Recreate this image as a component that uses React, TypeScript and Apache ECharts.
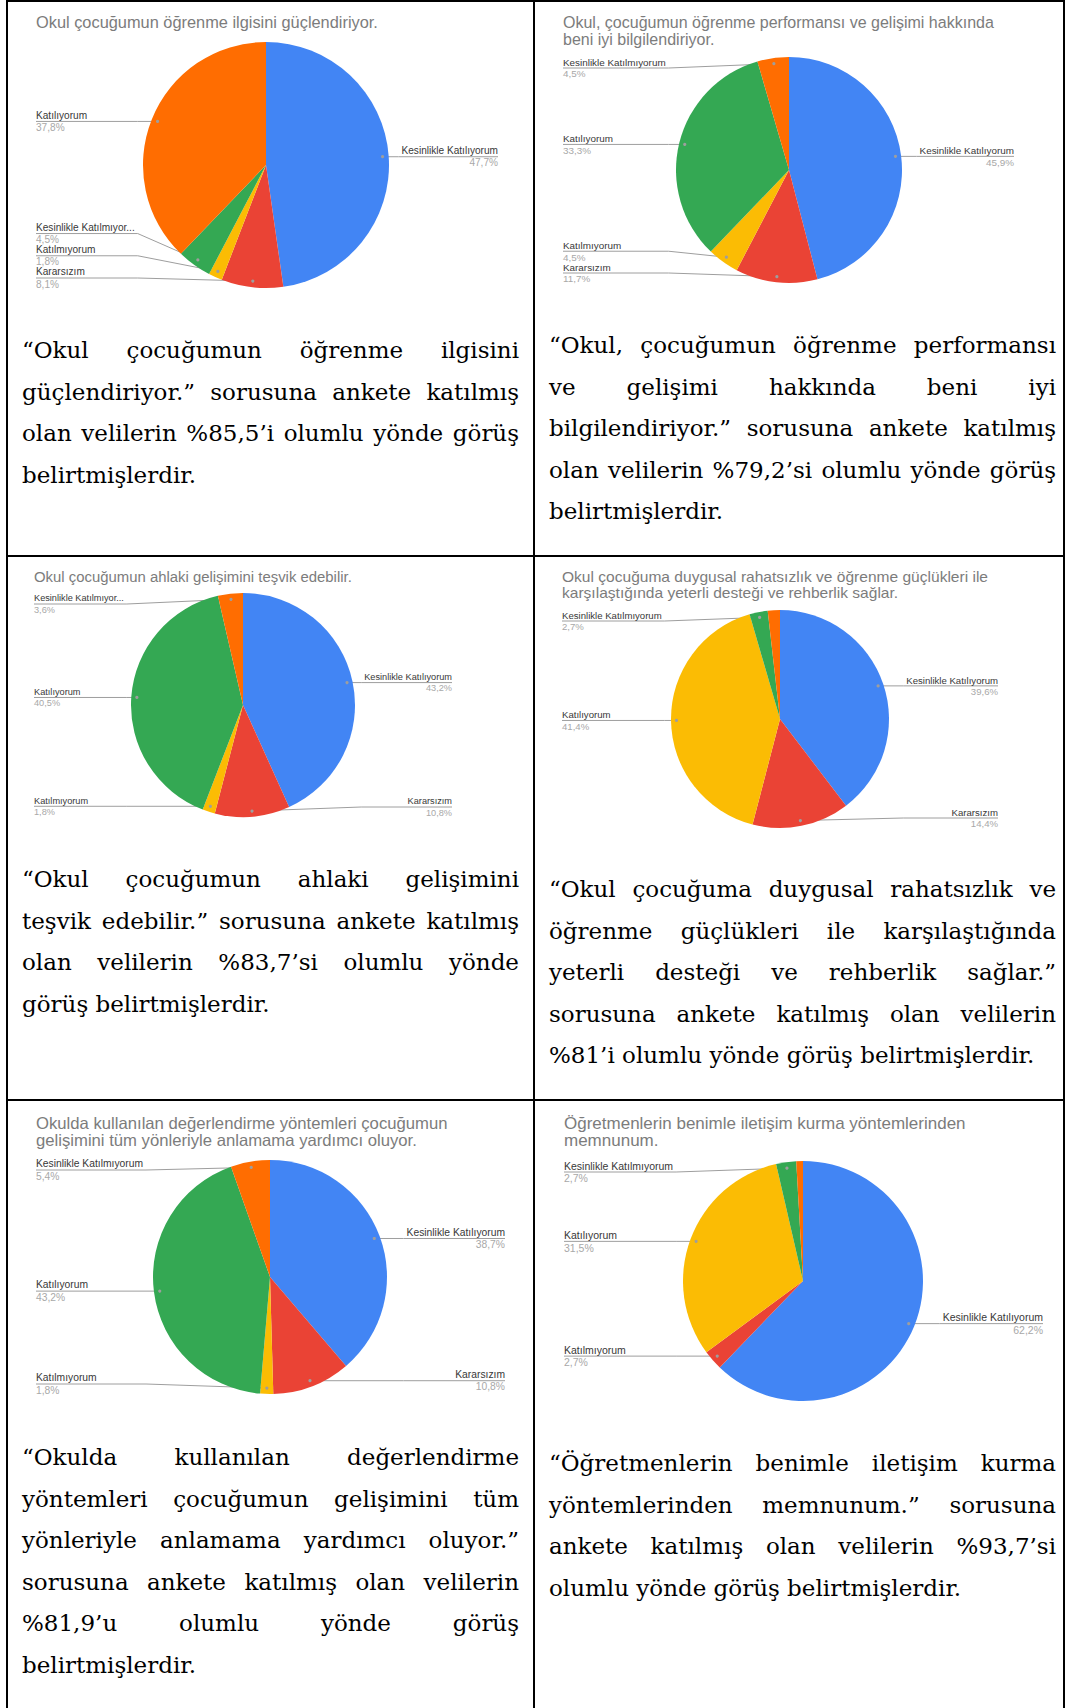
import React, { useEffect, useRef } from "react";
import * as echarts from "echarts";

// ---------- DATA ----------
const COLORS = ["#4285F4", "#EA4335", "#FBBC04", "#34A853", "#FF6D01"];

const KK = "Kesinlikle Katılıyorum";
const K = "Katılıyorum";
const KR = "Kararsızım";
const KM = "Katılmıyorum";
const KKM = "Kesinlikle Katılmıyorum";

const title1 = "Okul çocuğumun öğrenme ilgisini güçlendiriyor.";
const names1 = [KK, KR, KM, KKM, K];
const values1 = [47.7, 8.1, 1.8, 4.5, 37.8];

const title2 = "Okul, çocuğumun öğrenme performansı ve gelişimi hakkında\nbeni iyi bilgilendiriyor.";
const names2 = [KK, KR, KM, K, KKM];
const values2 = [45.9, 11.7, 4.5, 33.3, 4.5];

const title3 = "Okul çocuğumun ahlaki gelişimini teşvik edebilir.";
const names3 = [KK, KR, KM, K, KKM];
const values3 = [43.2, 10.8, 1.8, 40.5, 3.6];

const title4 = "Okul çocuğuma duygusal rahatsızlık ve öğrenme güçlükleri ile\nkarşılaştığında yeterli desteği ve rehberlik sağlar.";
const names4 = [KK, KR, K, KKM, KM];
const values4 = [39.6, 14.4, 41.4, 2.7, 1.8];

const title5 = "Okulda kullanılan değerlendirme yöntemleri çocuğumun\ngelişimini tüm yönleriyle anlamama yardımcı oluyor.";
const names5 = [KK, KR, KM, K, KKM];
const values5 = [38.7, 10.8, 1.8, 43.2, 5.4];

const title6 = "Öğretmenlerin benimle iletişim kurma yöntemlerinden\nmemnunum.";
const names6 = [KK, KM, K, KKM, KR];
const values6 = [62.2, 2.7, 31.5, 2.7, 0.9];

const text1 = [
  "“Okul çocuğumun öğrenme ilgisini",
  "güçlendiriyor.” sorusuna ankete katılmış",
  "olan velilerin %85,5’i olumlu yönde görüş",
  "belirtmişlerdir.",
];
const text2 = [
  "“Okul, çocuğumun öğrenme performansı",
  "ve gelişimi hakkında beni iyi",
  "bilgilendiriyor.” sorusuna ankete katılmış",
  "olan velilerin %79,2’si olumlu yönde görüş",
  "belirtmişlerdir.",
];
const text3 = [
  "“Okul çocuğumun ahlaki gelişimini",
  "teşvik edebilir.” sorusuna ankete katılmış",
  "olan velilerin %83,7’si olumlu yönde",
  "görüş belirtmişlerdir.",
];
const text4 = [
  "“Okul çocuğuma duygusal rahatsızlık ve",
  "öğrenme güçlükleri ile karşılaştığında",
  "yeterli desteği ve rehberlik sağlar.”",
  "sorusuna ankete katılmış olan velilerin",
  "%81’i olumlu yönde görüş belirtmişlerdir.",
];
const text5 = [
  "“Okulda kullanılan değerlendirme",
  "yöntemleri çocuğumun gelişimini tüm",
  "yönleriyle anlamama yardımcı oluyor.”",
  "sorusuna ankete katılmış olan velilerin",
  "%81,9’u olumlu yönde görüş",
  "belirtmişlerdir.",
];
const text6 = [
  "“Öğretmenlerin benimle iletişim kurma",
  "yöntemlerinden memnunum.” sorusuna",
  "ankete katılmış olan velilerin %93,7’si",
  "olumlu yönde görüş belirtmişlerdir.",
];

// ---------- LAYOUT ----------
const COL_X = [8, 535];
const COL_W = [525, 528];
const ROW_Y = [2, 557, 1101];
const CHART_H = 322;

const LABEL_FONT = '"Liberation Sans", Arial, sans-serif';
const TITLE_FONT = '"Liberation Sans", Arial, sans-serif';

type Cfg = {
  col: number; row: number;
  title: string; names: string[]; values: number[];
  cx: number; cy: number; r: number;
  leftX: number; rightX: number;
  titleTop: number; minY: number;
  hidden: number[]; maxW: number | null; s: number;
};

const charts: Cfg[] = [
  { col: 0, row: 0, title: title1, names: names1, values: values1, cx: 258, cy: 163, r: 123, leftX: 28, rightX: 490, titleTop: 12, minY: 50, hidden: [], maxW: 100, s: 1.01 },
  { col: 1, row: 0, title: title2, names: names2, values: values2, cx: 254, cy: 168, r: 113, leftX: 28, rightX: 479, titleTop: 12, minY: 66, hidden: [], maxW: null, s: 0.99 },
  { col: 0, row: 1, title: title3, names: names3, values: values3, cx: 235, cy: 148, r: 112, leftX: 26, rightX: 444, titleTop: 12, minY: 47, hidden: [], maxW: 92, s: 0.92 },
  { col: 1, row: 1, title: title4, names: names4, values: values4, cx: 245, cy: 162, r: 109, leftX: 27, rightX: 463, titleTop: 12, minY: 64, hidden: [4], maxW: null, s: 0.96 },
  { col: 0, row: 2, title: title5, names: names5, values: values5, cx: 262, cy: 176, r: 117, leftX: 28, rightX: 497, titleTop: 14, minY: 69, hidden: [], maxW: null, s: 1.03 },
  { col: 1, row: 2, title: title6, names: names6, values: values6, cx: 268, cy: 180, r: 120, leftX: 29, rightX: 508, titleTop: 14, minY: 71, hidden: [4], maxW: null, s: 1.05 },
];

const paragraphs = [
  { lines: text1, left: 22, top: 330, width: 497 },
  { lines: text2, left: 549, top: 325, width: 507 },
  { lines: text3, left: 22, top: 859, width: 497 },
  { lines: text4, left: 549, top: 869, width: 507 },
  { lines: text5, left: 22, top: 1437, width: 497 },
  { lines: text6, left: 549, top: 1443, width: 507 },
];

let measureCtx: CanvasRenderingContext2D | null = null;
function textWidth(s: string, size: number): number {
  if (!measureCtx) {
    const c = document.createElement("canvas");
    measureCtx = c.getContext("2d");
  }
  if (!measureCtx) return s.length * size * 0.5;
  measureCtx.font = size + "px " + LABEL_FONT;
  return measureCtx.measureText(s).width;
}

function truncate(s: string, maxW: number | null, size: number): string {
  if (maxW == null || textWidth(s, size) <= maxW) return s;
  let t = s;
  while (t.length > 1 && textWidth(t + "...", size) > maxW) t = t.slice(0, -1);
  return t + "...";
}

function fmtPct(v: number): string {
  return v.toFixed(1).replace(".", ",") + "%";
}

type Lay = {
  dotX: number; dotY: number; side: "left" | "right"; y: number;
  hidden: boolean; text: string; outer: number; points: number[][];
};

function computeLayout(cfg: Cfg): Lay[] {
  const fs = 10 * cfg.s;
  const gap = 22 * cfg.s;
  const total = cfg.values.reduce((a, b) => a + b, 0);
  let acc = 0;
  const items: Lay[] = cfg.values.map((v, i) => {
    const mid = (acc + v / 2) / total;
    acc += v;
    const ang = mid * Math.PI * 2;
    const dx = Math.sin(ang);
    const dy = -Math.cos(ang);
    const dotX = cfg.cx + 0.95 * cfg.r * dx;
    const dotY = cfg.cy + 0.95 * cfg.r * dy;
    const side: "left" | "right" = dx < 0 ? "left" : "right";
    return {
      dotX, dotY, side, y: dotY,
      hidden: cfg.hidden.includes(i),
      text: truncate(cfg.names[i], cfg.maxW, fs),
      outer: side === "left" ? cfg.leftX : cfg.rightX,
      points: [],
    };
  });
  const maxY = cfg.cy + cfg.r - 10;
  (["left", "right"] as const).forEach((side) => {
    const list = items.filter((it) => it.side === side && !it.hidden).sort((a, b) => a.dotY - b.dotY);
    list.forEach((it, k) => {
      it.y = Math.min(Math.max(it.dotY, cfg.minY), maxY);
      if (k > 0) it.y = Math.max(it.y, list[k - 1].y + gap);
    });
    for (let k = list.length - 1; k >= 0; k--) {
      if (k === list.length - 1) list[k].y = Math.min(list[k].y, maxY);
      else list[k].y = Math.min(list[k].y, list[k + 1].y - gap);
    }
    const maxTw = list.reduce((m, it) => Math.max(m, textWidth(it.text, fs)), 0);
    list.forEach((it) => {
      let near = side === "left" ? it.outer + maxTw + 3 : it.outer - maxTw - 3;
      if (side === "left") near = Math.min(near, it.dotX);
      else near = Math.max(near, it.dotX);
      it.points = [[it.dotX, it.dotY], [near, it.y], [it.outer, it.y]];
    });
  });
  return items;
}

function buildOption(cfg: Cfg) {
  const lay = computeLayout(cfg);
  const fs = 10 * cfg.s;
  const lh = 12 * cfg.s;
  const data = cfg.names.map((n, i) => {
    const item: any = { name: n, value: cfg.values[i], itemStyle: { color: COLORS[i] } };
    if (cfg.hidden.includes(i)) {
      item.label = { show: false };
      item.labelLine = { show: false };
    }
    return item;
  });
  return {
    animation: false,
    title: {
      text: cfg.title,
      left: cfg.leftX,
      top: cfg.titleTop,
      padding: 0,
      textStyle: {
        fontFamily: TITLE_FONT,
        fontSize: 16.2 * cfg.s,
        lineHeight: 16.5 * cfg.s,
        fontWeight: "normal",
        color: "#7c7c7c",
      },
    },
    graphic: lay
      .filter((l) => !l.hidden)
      .map((l) => ({
        type: "circle",
        silent: true,
        z: 100,
        shape: { cx: l.dotX, cy: l.dotY, r: 1.6 },
        style: { fill: "#9e9e9e" },
      })),
    series: [
      {
        type: "pie",
        center: [cfg.cx, cfg.cy],
        radius: cfg.r,
        startAngle: 90,
        clockwise: true,
        silent: true,
        emphasis: { disabled: true },
        avoidLabelOverlap: false,
        itemStyle: { borderWidth: 0 },
        data,
        label: {
          show: true,
          position: "outside",
          formatter: (p: any) => `{n|${lay[p.dataIndex].text}}\n{p|${fmtPct(p.value)}}`,
          rich: {
            n: { fontFamily: LABEL_FONT, fontSize: fs, lineHeight: lh, color: "#383838" },
            p: { fontFamily: LABEL_FONT, fontSize: fs, lineHeight: lh, color: "#a8a8a8" },
          },
        },
        labelLine: {
          show: true,
          length: 5,
          length2: 5,
          smooth: false,
          lineStyle: { color: "#9e9e9e", width: 1 },
        },
        labelLayout: (params: any) => {
          const l = lay[params.dataIndex];
          return {
            x: l.outer,
            y: l.y,
            align: l.side === "left" ? "left" : "right",
            verticalAlign: "middle",
            labelLinePoints: l.points,
          };
        },
      },
    ],
  };
}

function PieChart({ cfg }: { cfg: Cfg }) {
  const ref = useRef<HTMLDivElement>(null);
  useEffect(() => {
    if (!ref.current) return;
    const chart = echarts.init(ref.current, null, { renderer: "svg" });
    chart.setOption(buildOption(cfg) as any);
    return () => chart.dispose();
  }, [cfg]);
  return (
    <div
      ref={ref}
      style={{
        position: "absolute",
        left: COL_X[cfg.col],
        top: ROW_Y[cfg.row],
        width: COL_W[cfg.col],
        height: CHART_H,
      }}
    />
  );
}

function Paragraph({ lines, left, top, width }: { lines: string[]; left: number; top: number; width: number }) {
  return (
    <div
      style={{
        position: "absolute",
        left,
        top,
        width,
        fontFamily: '"DejaVu Serif", serif',
        fontSize: 23,
        lineHeight: "41.5px",
        color: "#000",
      }}
    >
      {lines.map((ln, i) => {
        const last = i === lines.length - 1;
        return (
          <div
            key={i}
            style={{
              textAlign: last ? "left" : "justify",
              textAlignLast: last ? "left" : "justify",
              whiteSpace: "normal",
            } as any}
          >
            {ln}
          </div>
        );
      })}
    </div>
  );
}

function Bar({ x, y, w, h }: { x: number; y: number; w: number; h: number }) {
  return <div style={{ position: "absolute", left: x, top: y, width: w, height: h, background: "#000" }} />;
}

export default function App() {
  useEffect(() => {
    document.body.style.margin = "0";
  }, []);
  return (
    <div
      style={{
        position: "absolute",
        left: 0,
        top: 0,
        width: 1065,
        height: 1708,
        background: "#fff",
        overflow: "hidden",
      }}
    >
      {charts.map((c, i) => (
        <PieChart key={i} cfg={c} />
      ))}
      {paragraphs.map((p, i) => (
        <Paragraph key={i} {...p} />
      ))}
      <Bar x={6} y={0} w={1059} h={2} />
      <Bar x={6} y={555} w={1059} h={2} />
      <Bar x={6} y={1099} w={1059} h={2} />
      <Bar x={6} y={0} w={2} h={1708} />
      <Bar x={533} y={0} w={2} h={1708} />
      <Bar x={1063} y={0} w={2} h={1708} />
    </div>
  );
}
